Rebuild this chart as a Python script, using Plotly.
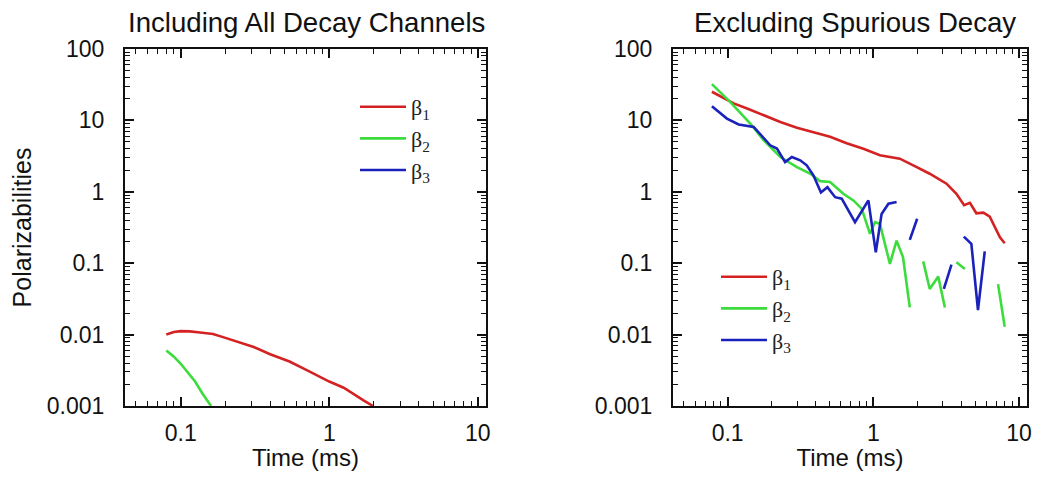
import plotly.graph_objects as go

# ---------------- data ----------------
# Left panel: Including All Decay Channels
left_t_b1 = [0.080, 0.090, 0.100, 0.115, 0.135, 0.165, 0.20, 0.25, 0.31, 0.40, 0.54, 0.70, 1.00, 1.25, 1.45, 1.70, 1.97]
left_b1 = [0.0100, 0.0109, 0.0112, 0.0111, 0.0107, 0.0102, 0.0090, 0.0078, 0.0067, 0.0053, 0.0042, 0.0032, 0.0022, 0.0018, 0.0015, 0.0012, 0.0010]
left_t_b2 = [0.080, 0.090, 0.100, 0.110, 0.125, 0.140, 0.160]
left_b2 = [0.0060, 0.0049, 0.0039, 0.0031, 0.0022, 0.0015, 0.0010]

# Right panel: Excluding Spurious Decay
right_t_b1 = [0.078, 0.094, 0.110, 0.136, 0.177, 0.230, 0.299, 0.388, 0.505, 0.656, 0.855, 1.11, 1.30, 1.52,
              1.88, 2.44, 3.18, 3.72, 4.20, 4.60, 5.10, 5.70, 6.30, 7.00, 7.40, 7.98]
right_b1 = [25.2, 20.3, 17.3, 14.7, 11.8, 9.5, 7.9, 6.9, 5.9, 4.8, 4.0, 3.25, 3.07, 2.91,
            2.35, 1.79, 1.30, 0.94, 0.65, 0.70, 0.50, 0.51, 0.45, 0.30, 0.23, 0.19]

right_t_b2 = [0.078, 0.104, 0.143, 0.177, 0.230, 0.299, 0.368, 0.431, 0.505, 0.623, 0.730, 0.832, 0.949, 1.027,
              1.11, 1.30, 1.445, 1.60, 1.78, 1.99, 2.20, 2.44, 2.79, 3.10, 3.40, 3.72, 4.25, 5.5, 7.18, 7.98]
right_b2 = [32.2, 18.2, 9.05, 5.27, 3.07, 2.22, 1.80, 1.41, 1.37, 0.94, 0.757, 0.58, 0.258, 0.375,
            0.356, 0.098, 0.207, 0.121, 0.024, None, 0.106, 0.0436, 0.065, 0.024, None, 0.103, 0.083, None, 0.051, 0.0129]

right_t_b3 = [0.078, 0.0989, 0.119, 0.151, 0.196, 0.218, 0.248, 0.276, 0.315, 0.349, 0.388, 0.437, 0.484, 0.547,
              0.607, 0.749, 0.925, 1.04, 1.14, 1.27, 1.445, 1.60, 1.78, 2.00, 2.50, 3.05, 3.44, 3.80, 4.18, 4.71, 5.23, 5.82]
right_b3 = [15.8, 10.6, 8.76, 8.1, 4.48, 4.03, 2.61, 3.07, 2.76, 2.35, 1.70, 0.98, 1.16, 0.84,
            0.80, 0.375, 0.757, 0.142, 0.49, 0.68, 0.72, None, 0.212, 0.42, None, 0.0436, 0.0955, None, 0.236, 0.187, 0.0221, 0.146]

series_names = ["β<sub>1</sub>", "β<sub>2</sub>", "β<sub>3</sub>"]
colors = ["#d42222", "#3ddc3d", "#1a22bb"]

x_tickvals = [0.1, 1, 10]
x_ticktext = ["0.1", "1", "10"]
y_tickvals = [0.001, 0.01, 0.1, 1, 10, 100]
y_ticktext = ["0.001", "0.01", "0.1", "1", "10", "100"]

# ---------------- figure ----------------
# the page body has an 8px default margin on every side; size the figure so the
# page fits the 1043x479 window
OFF = 8
W, H = 1043 - OFF, 479 - 2 * OFF

def px(X):
    return (X - OFF) / W

def py(Y):
    return 1 - (Y - OFF) / H

fig = go.Figure()

lw = 2.6
# left panel
fig.add_trace(go.Scatter(x=left_t_b1, y=left_b1, mode="lines", name=series_names[0], legendgroup="a1",
                         line=dict(color=colors[0], width=lw), xaxis="x", yaxis="y", legend="legend"))
fig.add_trace(go.Scatter(x=left_t_b2, y=left_b2, mode="lines", name=series_names[1], legendgroup="a2",
                         line=dict(color=colors[1], width=lw), xaxis="x", yaxis="y", legend="legend"))
fig.add_trace(go.Scatter(x=[None], y=[None], mode="lines", name=series_names[2], legendgroup="a3",
                         line=dict(color=colors[2], width=lw), xaxis="x", yaxis="y", legend="legend"))
# right panel
fig.add_trace(go.Scatter(x=right_t_b1, y=right_b1, mode="lines", name=series_names[0], legendgroup="b1",
                         line=dict(color=colors[0], width=lw), xaxis="x2", yaxis="y2", legend="legend2"))
fig.add_trace(go.Scatter(x=right_t_b2, y=right_b2, mode="lines", name=series_names[1], connectgaps=False,
                         legendgroup="b2",
                         line=dict(color=colors[1], width=lw), xaxis="x2", yaxis="y2", legend="legend2"))
fig.add_trace(go.Scatter(x=right_t_b3, y=right_b3, mode="lines", name=series_names[2], connectgaps=False,
                         legendgroup="b3",
                         line=dict(color=colors[2], width=lw), xaxis="x2", yaxis="y2", legend="legend2"))

FONT = "Liberation Sans, Arial, sans-serif"
tick_font = dict(family=FONT, size=23, color="#111")

def xaxis(domain, anchor):
    return dict(type="log", domain=domain, anchor=anchor, range=[-1.375, 1.055], automargin=False,
                tickvals=x_tickvals, ticktext=x_ticktext, ticks="inside", ticklen=9, tickwidth=1.6,
                tickcolor="#111", showline=True, linecolor="#111", linewidth=2, mirror="ticks",
                showgrid=False, zeroline=False, tickfont=tick_font, ticklabelstandoff=5,
                ticklabeloverflow="allow",
                minor=dict(ticks="inside", ticklen=5, tickwidth=1.4, tickcolor="#111", showgrid=False,
                           dtick="D1"),
                title=dict(text="Time (ms)", font=dict(family=FONT, size=24, color="#111"), standoff=6))

def yaxis(domain, anchor, title=None):
    d = dict(type="log", domain=domain, anchor=anchor, range=[-3, 2], automargin=False,
             tickvals=y_tickvals, ticktext=y_ticktext, ticks="inside", ticklen=9, tickwidth=1.6,
             tickcolor="#111", showline=True, linecolor="#111", linewidth=2, mirror="ticks",
             showgrid=False, zeroline=False, tickfont=tick_font, ticklabelstandoff=14,
             minor=dict(ticks="inside", ticklen=5, tickwidth=1.4, tickcolor="#111", showgrid=False,
                        dtick="D1"))
    if title:
        d["title"] = dict(text=title, font=dict(family=FONT, size=25, color="#111"), standoff=10)
    return d

ydom = [py(406), py(49)]
leg_font = dict(family="Liberation Serif, serif", size=22, color="#222")
fig.update_layout(
    width=W, height=H,
    margin=dict(l=0, r=0, t=0, b=0, pad=0, autoexpand=False),
    paper_bgcolor="white", plot_bgcolor="white",
    xaxis=xaxis([px(125), px(486)], "y"),
    yaxis=yaxis(ydom, "x", "Polarizabilities"),
    xaxis2=xaxis([px(673), px(1027)], "y2"),
    yaxis2=yaxis(ydom, "x2"),
    legend=dict(x=px(355), y=py(86), xanchor="left", yanchor="top", bgcolor="rgba(0,0,0,0)",
                font=leg_font, itemwidth=46, tracegroupgap=0),
    legend2=dict(x=px(716), y=py(256), xanchor="left", yanchor="top", bgcolor="rgba(0,0,0,0)",
                 font=leg_font, itemwidth=46, tracegroupgap=0),
    showlegend=True,
    annotations=[
        dict(text="Including All Decay Channels", x=px(306), y=py(23), xref="paper", yref="paper",
             showarrow=False, xanchor="center", yanchor="middle",
             font=dict(family=FONT, size=27.6, color="#111")),
        dict(text="Excluding Spurious Decay", x=px(855), y=py(23), xref="paper", yref="paper",
             showarrow=False, xanchor="center", yanchor="middle",
             font=dict(family=FONT, size=27.6, color="#111")),
    ],
)

fig.write_html("out.html")
